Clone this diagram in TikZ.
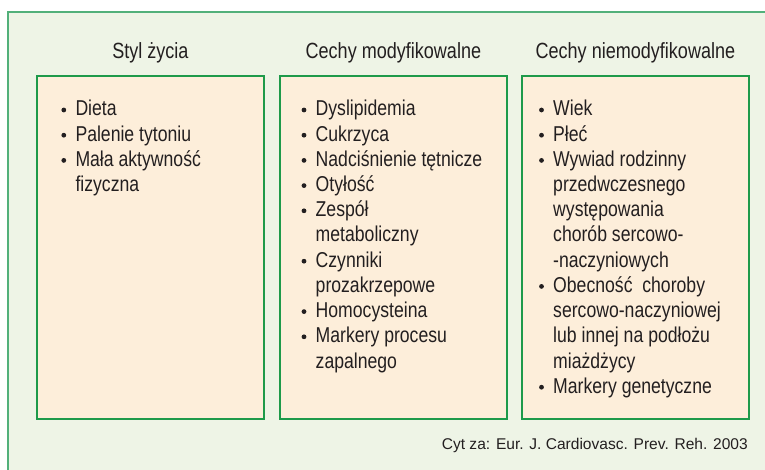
\documentclass[tikz,border=0pt]{standalone}
\usepackage{fontspec}
\setmainfont[FakeStretch=0.82]{Liberation Sans}
\newfontfamily\citefont{Liberation Sans}
\definecolor{outerfill}{HTML}{EEF4E6}
\definecolor{outerline}{HTML}{52B07A}
\definecolor{boxfill}{HTML}{FDEEDA}
\definecolor{boxline}{HTML}{1E9A4A}
\definecolor{ink}{HTML}{231F20}
\tikzset{
  outerframe/.style={draw=outerline, fill=outerfill, line width=1.6pt},
  listbox/.style={draw=boxline, fill=boxfill, line width=1.8pt, rectangle,
    minimum width=227pt, minimum height=343pt, anchor=north west, inner sep=0pt},
  boxtitle/.style={anchor=base, inner sep=0pt, text=ink, font=\fontsize{22pt}{26pt}\selectfont},
  entry/.style={anchor=base west, inner sep=0pt, text=ink, font=\fontsize{21.5pt}{25pt}\selectfont},
  dot/.style={fill=ink},
  citetext/.style={anchor=base east, inner sep=0pt, text=ink, font=\citefont\fontsize{15.55pt}{18pt}\selectfont}
}
\newcommand{\entryline}[5]{% #1 name, #2 x, #3 line index, #4 bullet (1/0), #5 text
  \pgfmathsetmacro{\ybase}{116+25.2*#3}
  \node[entry] (#1) at (#2,\ybase) {#5};
  \ifnum#4=1 \fill[dot] (#1.base west) ++(-11.5,-6) circle (2.4pt);\fi
}
\begin{document}
\begin{tikzpicture}[x=1pt,y=-1pt]
\useasboundingbox (0,0) rectangle (765,470);
\clip (0,0) rectangle (765,470);
\draw[outerframe] (8,12) rectangle (800,500);

\node[listbox] (b1) at (36,75) {};
\node[listbox] (b2) at (279,75) {};
\node[listbox] (b3) at (521,75) {};

\coordinate (tl) at (0,59);
\node[boxtitle] (t1) at (b1.north |- tl) {Styl życia};
\node[boxtitle] (t2) at (b2.north |- tl) {Cechy modyfikowalne};
\node[boxtitle] (t3) at (b3.north |- tl) {Cechy niemodyfikowalne};

% box 1
\entryline{a1}{75.3}{0}{1}{Dieta}
\entryline{a2}{75.3}{1}{1}{Palenie tytoniu}
\entryline{a3}{75.3}{2}{1}{Mała aktywność}
\entryline{a4}{75.3}{3}{0}{fizyczna}

% box 2
\entryline{m1}{315.5}{0}{1}{Dyslipidemia}
\entryline{m2}{315.5}{1}{1}{Cukrzyca}
\entryline{m3}{315.5}{2}{1}{Nadciśnienie tętnicze}
\entryline{m4}{315.5}{3}{1}{Otyłość}
\entryline{m5}{315.5}{4}{1}{Zespół}
\entryline{m6}{315.5}{5}{0}{metaboliczny}
\entryline{m7}{315.5}{6}{1}{Czynniki}
\entryline{m8}{315.5}{7}{0}{prozakrzepowe}
\entryline{m9}{315.5}{8}{1}{Homocysteina}
\entryline{m10}{315.5}{9}{1}{Markery procesu}
\entryline{m11}{315.5}{10}{0}{zapalnego}

% box 3
\entryline{n1}{553}{0}{1}{Wiek}
\entryline{n2}{553}{1}{1}{Płeć}
\entryline{n3}{553}{2}{1}{Wywiad rodzinny}
\entryline{n4}{553}{3}{0}{przedwczesnego}
\entryline{n5}{553}{4}{0}{występowania}
\entryline{n6}{553}{5}{0}{chorób sercowo-}
\entryline{n7}{553}{6}{0}{-naczyniowych}
\entryline{n8}{553}{7}{1}{Obecność\ \ choroby}
\entryline{n9}{553}{8}{0}{sercowo-naczyniowej}
\entryline{n10}{553}{9}{0}{lub innej na podłożu}
\entryline{n11}{553}{10}{0}{miażdżycy}
\entryline{n12}{553}{11}{1}{Markery genetyczne}

\coordinate (cr) at (748,449);
\node[citetext] (cite) at (cr) {Cyt za: Eur. J. Cardiovasc. Prev. Reh. 2003};
\end{tikzpicture}
\end{document}
